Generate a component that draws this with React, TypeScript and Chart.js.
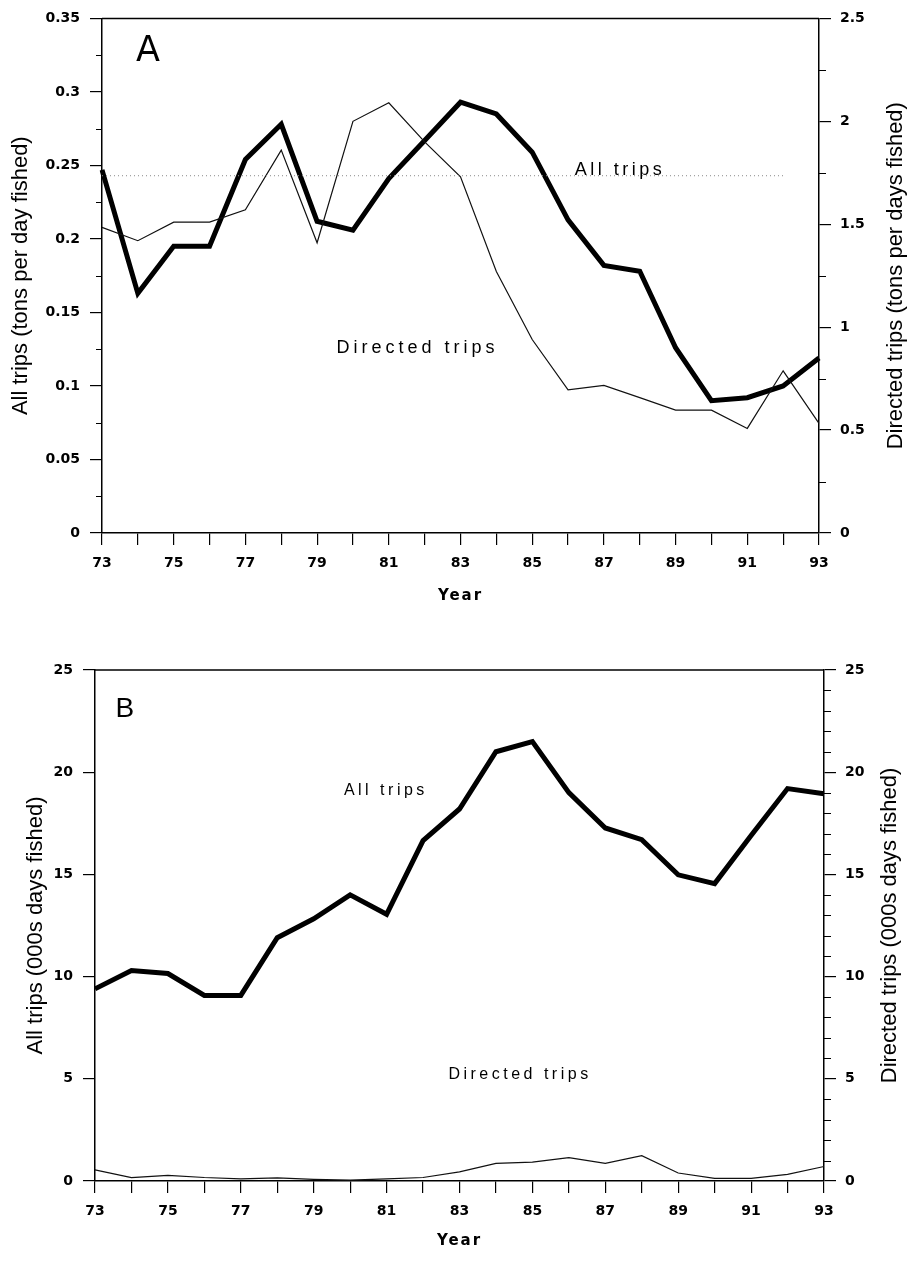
import React, { useEffect, useRef } from 'react';
import { Chart, registerables } from 'chart.js';

Chart.register(...registerables);

// ---------- data ----------
const years = ['73', '74', '75', '76', '77', '78', '79', '80', '81', '82', '83', '84', '85', '86', '87', '88', '89', '90', '91', '92', '93'];

// Panel A: catch rates
const allTripsRate = [0.247, 0.163, 0.195, 0.195, 0.254, 0.278, 0.212, 0.206, 0.241, 0.267, 0.293, 0.285, 0.259, 0.213, 0.182, 0.178, 0.126, 0.090, 0.092, 0.100, 0.119];
const directedTripsRate = [1.485, 1.42, 1.51, 1.51, 1.57, 1.86, 1.41, 2.0, 2.09, 1.9, 1.73, 1.27, 0.94, 0.695, 0.717, 0.658, 0.597, 0.597, 0.508, 0.788, 0.533];
const allTripsMeanRate = [0.243, 0.243, 0.243, 0.243, 0.243, 0.243, 0.243, 0.243, 0.243, 0.243, 0.243, 0.243, 0.243, 0.243, 0.243, 0.243, 0.243, 0.243, 0.243, 0.243, null];

// Panel B: effort
const allTripsEffort = [9.4, 10.3, 10.15, 9.08, 9.08, 11.9, 12.83, 14.0, 13.05, 16.65, 18.2, 21.0, 21.5, 19.0, 17.27, 16.7, 14.98, 14.55, 16.9, 19.2, 18.95];
const directedTripsEffort = [0.54, 0.17, 0.28, 0.17, 0.1, 0.15, 0.08, 0.04, 0.1, 0.17, 0.45, 0.86, 0.92, 1.14, 0.86, 1.24, 0.39, 0.13, 0.13, 0.32, 0.71];

// tick labels
const leftTicksA = ['0', '0.05', '0.1', '0.15', '0.2', '0.25', '0.3', '0.35'];
const rightTicksA = ['0', '0.5', '1', '1.5', '2', '2.5'];
const ticksB = ['0', '5', '10', '15', '20', '25'];
const minorLeftA = [0.025, 0.075, 0.125, 0.175, 0.225, 0.275, 0.325];
const minorRightA = [0.25, 0.75, 1.25, 1.75, 2.25];
const minorRightB = [1, 2, 3, 4, 6, 7, 8, 9, 11, 12, 13, 14, 16, 17, 18, 19, 21, 22, 23, 24];

// ---------- plugins ----------
const framePlugin = {
  id: 'frame',
  afterDatasetsDraw(chart: any) {
    const { ctx, chartArea } = chart;
    ctx.save();
    ctx.strokeStyle = '#000';
    ctx.lineWidth = 1.5;
    ctx.beginPath();
    ctx.moveTo(chartArea.left, chartArea.top);
    ctx.lineTo(chartArea.right, chartArea.top);
    ctx.stroke();
    ctx.restore();
  },
};

const minorTicksPlugin = {
  id: 'minorTicks',
  afterDraw(chart: any, _args: any, opts: any) {
    const { ctx } = chart;
    const list = (opts && opts.items) || [];
    ctx.save();
    ctx.strokeStyle = '#000';
    ctx.lineWidth = 1;
    list.forEach((it: any) => {
      const scale = chart.scales[it.scale];
      if (!scale) return;
      it.values.forEach((v: number) => {
        const py = Math.round(scale.getPixelForValue(v)) + 0.5;
        ctx.beginPath();
        if (scale.position === 'left') {
          ctx.moveTo(scale.right, py);
          ctx.lineTo(scale.right - it.length, py);
        } else {
          ctx.moveTo(scale.left, py);
          ctx.lineTo(scale.left + it.length, py);
        }
        ctx.stroke();
      });
    });
    ctx.restore();
  },
};

const textPlugin = {
  id: 'texts',
  afterDraw(chart: any, _args: any, opts: any) {
    const { ctx, chartArea, scales } = chart;
    const cy = (chartArea.top + chartArea.bottom) / 2;
    ctx.save();
    ctx.fillStyle = '#000';
    ctx.textAlign = 'center';
    ctx.textBaseline = 'middle';
    (opts.titles || []).forEach((t: any) => {
      ctx.save();
      ctx.font = t.font;
      ctx.translate(t.x, cy);
      ctx.rotate(-Math.PI / 2);
      ctx.fillText(t.text, 0, 0);
      ctx.restore();
    });
    if (opts.xTitle) {
      ctx.save();
      ctx.font = opts.xTitle.font;
      (ctx as any).letterSpacing = opts.xTitle.spacing || '0px';
      ctx.fillText(opts.xTitle.text, (chartArea.left + chartArea.right) / 2, chartArea.bottom + opts.xTitle.offset);
      ctx.restore();
    }
    (opts.notes || []).forEach((n: any) => {
      ctx.save();
      ctx.font = n.font;
      (ctx as any).letterSpacing = n.spacing || '0px';
      const px = scales.x.getPixelForValue(n.x);
      const py = scales[n.axis].getPixelForValue(n.y);
      ctx.fillText(n.text, px, py);
      ctx.restore();
    });
    ctx.restore();
  },
};

const tickFont = { family: 'DejaVu Sans', weight: 'bold' as const, size: 14 };

function xScale(height: number) {
  return {
    type: 'category' as const,
    grid: { drawOnChartArea: false, tickLength: 12, color: '#000', lineWidth: 1.2 },
    border: { color: '#000', width: 1.5 },
    ticks: {
      autoSkip: false,
      maxRotation: 0,
      padding: 10,
      color: '#000',
      font: tickFont,
      callback: (_v: any, i: number) => (i % 2 === 0 ? years[i] : ''),
    },
    afterFit: (s: any) => {
      s.height = height;
    },
  };
}

function yScale(pos: 'left' | 'right', min: number, max: number, step: number, labels: string[], width: number, pad: number) {
  return {
    type: 'linear' as const,
    position: pos,
    min,
    max,
    grid: { drawOnChartArea: false, tickLength: 12, color: '#000', lineWidth: 1.2 },
    border: { color: '#000', width: 1.5 },
    ticks: {
      stepSize: step,
      padding: pad,
      color: '#000',
      font: tickFont,
      callback: (v: any, i: number) => (labels[i] !== undefined ? labels[i] : String(v)),
    },
    afterFit: (s: any) => {
      s.width = width;
    },
  };
}

function makeConfigA(): any {
  return {
    type: 'line',
    data: {
      labels: years,
      datasets: [
        { data: allTripsMeanRate, yAxisID: 'y', borderColor: '#8a8a8a', borderWidth: 1, borderDash: [1, 3], pointRadius: 0, tension: 0 },
        { data: directedTripsRate, yAxisID: 'y1', borderColor: '#111', borderWidth: 1.2, pointRadius: 0, tension: 0 },
        { data: allTripsRate, yAxisID: 'y', borderColor: '#000', borderWidth: 5, pointRadius: 0, tension: 0, borderJoinStyle: 'miter' },
      ],
    },
    options: {
      responsive: false,
      animation: false,
      layout: { padding: { top: 16, left: 0, right: 0, bottom: 0 } },
      scales: {
        x: xScale(97),
        y: yScale('left', 0, 0.35, 0.05, leftTicksA, 102, 10),
        y1: yScale('right', 0, 2.5, 0.5, rightTicksA, 90, 9),
      },
      plugins: {
        legend: { display: false },
        tooltip: { enabled: false },
        minorTicks: {
          items: [
            { scale: 'y', values: minorLeftA, length: 6 },
            { scale: 'y1', values: minorRightA, length: 7 },
          ],
        },
        texts: {
          titles: [
            { text: 'All trips (tons per day fished)', x: 21, font: '22px "Liberation Sans"' },
            { text: 'Directed trips (tons per days fished)', x: 896, font: '22px "Liberation Sans"' },
          ],
          xTitle: { text: 'Year', font: 'bold 15px "DejaVu Sans"', spacing: '2px', offset: 63 },
          notes: [
            { text: 'A', x: 1.28, y: 0.327, axis: 'y', font: '35px "DejaVu Sans"' },
            { text: 'All trips', x: 14.45, y: 0.247, axis: 'y', font: '18px "Liberation Sans"', spacing: '3.5px' },
            { text: 'Directed trips', x: 8.8, y: 0.126, axis: 'y', font: '18px "Liberation Sans"', spacing: '4px' },
          ],
        },
      },
    },
    plugins: [framePlugin, minorTicksPlugin, textPlugin],
  };
}

function makeConfigB(): any {
  return {
    type: 'line',
    data: {
      labels: years,
      datasets: [
        { data: directedTripsEffort, yAxisID: 'y1', borderColor: '#111', borderWidth: 1.2, pointRadius: 0, tension: 0 },
        { data: allTripsEffort, yAxisID: 'y', borderColor: '#000', borderWidth: 5, pointRadius: 0, tension: 0 },
      ],
    },
    options: {
      responsive: false,
      animation: false,
      layout: { padding: { top: 40, left: 0, right: 0, bottom: 0 } },
      scales: {
        x: xScale(80),
        y: yScale('left', 0, 25, 5, ticksB, 95, 10),
        y1: yScale('right', 0, 25, 5, ticksB, 85, 9),
      },
      plugins: {
        legend: { display: false },
        tooltip: { enabled: false },
        minorTicks: {
          items: [{ scale: 'y1', values: minorRightB, length: 7 }],
        },
        texts: {
          titles: [
            { text: 'All trips (000s days fished)', x: 36, font: '22px "Liberation Sans"' },
            { text: 'Directed trips (000s days fished)', x: 890, font: '22px "Liberation Sans"' },
          ],
          xTitle: { text: 'Year', font: 'bold 15px "DejaVu Sans"', spacing: '2px', offset: 60 },
          notes: [
            { text: 'B', x: 0.82, y: 23.1, axis: 'y', font: '28px "Liberation Sans"' },
            { text: 'All trips', x: 7.98, y: 19.08, axis: 'y', font: '16px "Liberation Sans"', spacing: '3.5px' },
            { text: 'Directed trips', x: 11.66, y: 5.23, axis: 'y', font: '16px "Liberation Sans"', spacing: '3.5px' },
          ],
        },
      },
    },
    plugins: [framePlugin, minorTicksPlugin, textPlugin],
  };
}

function Panel({ top, height, make }: { top: number; height: number; make: () => any }) {
  const ref = useRef<HTMLCanvasElement | null>(null);
  useEffect(() => {
    if (!ref.current) return;
    const chart = new Chart(ref.current, make());
    return () => chart.destroy();
  }, [make]);
  return (
    <canvas
      ref={ref}
      width={909}
      height={height}
      style={{ position: 'absolute', left: 0, top, width: 909, height, display: 'block' }}
    />
  );
}

export default function App() {
  return (
    <div style={{ position: 'absolute', left: 0, top: 0, width: 909, height: 1261, background: '#fff', overflow: 'hidden' }}>
      <Panel top={0} height={630} make={makeConfigA} />
      <Panel top={630} height={631} make={makeConfigB} />
    </div>
  );
}
